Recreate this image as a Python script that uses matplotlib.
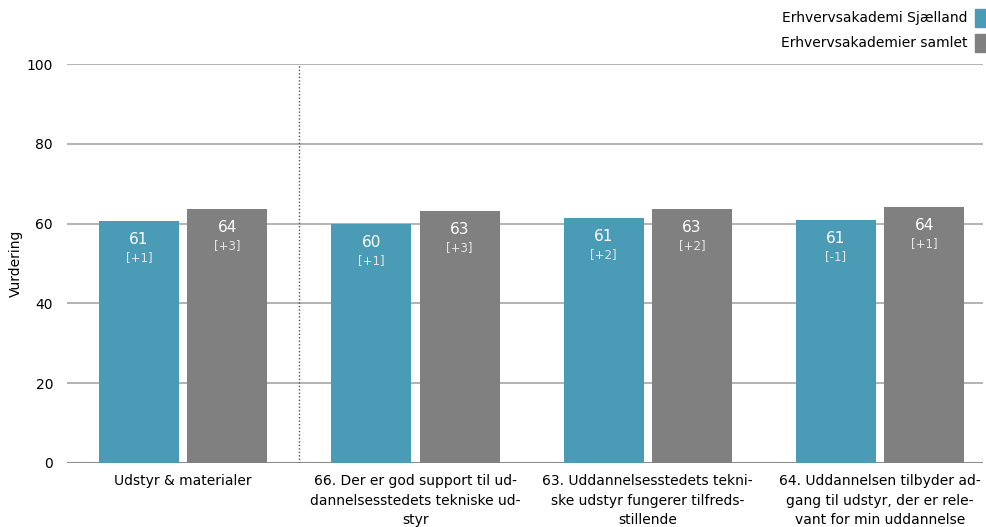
import matplotlib
matplotlib.use("Agg")
import matplotlib.pyplot as plt
from matplotlib.patches import Rectangle

categories = [
    "Udstyr & materialer",
    "66. Der er god support til ud-\ndannelsesstedets tekniske ud-\nstyr",
    "63. Uddannelsesstedets tekni-\nske udstyr fungerer tilfreds-\nstillende",
    "64. Uddannelsen tilbyder ad-\ngang til udstyr, der er rele-\nvant for min uddannelse",
]
series_names = ["Erhvervsakademi Sjælland", "Erhvervsakademier samlet"]
sjaelland = [60.6, 59.9, 61.4, 60.9]
samlet = [63.6, 63.2, 63.7, 64.2]
sjaelland_labels = ["61", "60", "61", "61"]
samlet_labels = ["64", "63", "63", "64"]
sjaelland_diff = ["[+1]", "[+1]", "[+2]", "[-1]"]
samlet_diff = ["[+3]", "[+3]", "[+2]", "[+1]"]
yticks = [0, 20, 40, 60, 80, 100]

blue = "#4a9bb6"
gray = "#808080"

plt.rcParams['font.family'] = ['DejaVu Sans']
fig = plt.figure(figsize=(9.87, 5.27), dpi=100)
ax = fig.add_axes([67/987, 1-463/527, (983-67)/987, (463-64)/527])

w = 0.345
off = 0.19
xs = list(range(len(categories)))
for i in xs:
    for val, lab, diff, col, dx in [
        (sjaelland[i], sjaelland_labels[i], sjaelland_diff[i], blue, -off),
        (samlet[i], samlet_labels[i], samlet_diff[i], gray, off),
    ]:
        ax.bar(i + dx, val, width=w, color=col, zorder=3)
        ax.text(i + dx, val - 4.7, lab, ha="center", va="center", color="white", fontsize=11, zorder=4)
        ax.text(i + dx, val - 9.1, diff, ha="center", va="center", color="#e6e6e6", fontsize=8.5, zorder=4)

ax.set_xlim(-0.5, -0.5 + 916/232.3)
ax.set_ylim(0, 100)
ax.set_yticks(yticks)
ax.yaxis.grid(True, color="#a6a6a6", linewidth=1.2, zorder=0)
ax.set_axisbelow(True)
for s in ax.spines.values():
    s.set_visible(False)
ax.axhline(0, color="#8c8c8c", linewidth=1.5, zorder=2)
ax.axvline(0.5, color="#555555", linestyle=(0, (1, 1.5)), linewidth=1.0, zorder=2)
ax.tick_params(axis="both", length=0, labelsize=10, colors="black")
ax.tick_params(axis="y", pad=10)
ax.set_xticks(xs)
ax.set_xticklabels(categories, fontsize=10, linespacing=1.5)
ax.tick_params(axis="x", pad=8)
fig.text(16/987, 1 - 263/527, "Vurdering", rotation=90, ha="center", va="center", fontsize=10)

# legend
for k, (name, col) in enumerate(zip(series_names, [blue, gray])):
    yc = 1 - (18 + 25*k)/527
    fig.text(968/987, yc, name, ha="right", va="center", fontsize=10)
    fig.patches.append(Rectangle((975/987, yc - 9/527), 12/987, 18/527,
                                 transform=fig.transFigure, color=col, figure=fig))

fig.savefig("out.png", dpi=100)
